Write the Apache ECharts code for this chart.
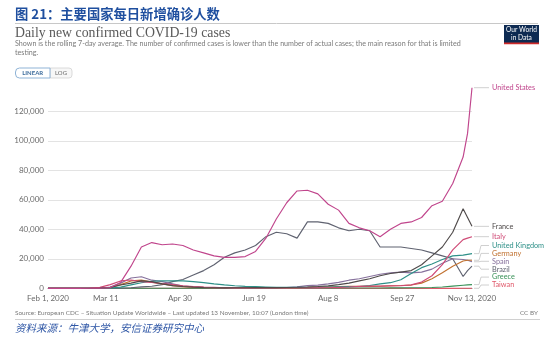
<!DOCTYPE html>
<html>
<head>
<meta charset="utf-8">
<script src="https://cdn.jsdelivr.net/npm/echarts@6/dist/echarts.min.js"></script>
<style>
  html, body { margin: 0; padding: 0; background: #fff; }
  #chart { width: 550px; height: 343px; }
</style>
</head>
<body>
<div id="chart"></div>
<script>
// Weekly samples of the rolling 7-day average of new confirmed cases
const dates = [
  '2020-02-01','2020-02-08','2020-02-15','2020-02-22','2020-02-29',
  '2020-03-07','2020-03-14','2020-03-21','2020-03-28',
  '2020-04-04','2020-04-11','2020-04-18','2020-04-25',
  '2020-05-02','2020-05-09','2020-05-16','2020-05-23','2020-05-30',
  '2020-06-06','2020-06-13','2020-06-20','2020-06-27',
  '2020-07-04','2020-07-11','2020-07-18','2020-07-25',
  '2020-08-01','2020-08-08','2020-08-15','2020-08-22','2020-08-29',
  '2020-09-05','2020-09-12','2020-09-19','2020-09-26',
  '2020-10-03','2020-10-10','2020-10-17','2020-10-24','2020-10-31',
  '2020-11-07','2020-11-10','2020-11-13'
];

const unitedStates = [0,0,0,0,10, 60,500,4000,15000, 28000,31000,29500,30000,
  29000,26000,24000,22000,21000, 21000,21500,25000,34000, 47000,58000,66000,66500,
  64000,57000,53000,44000,41000, 39000,35000,40000,44000, 45000,48000,56000,59000,71000,
  89000,105000,136000];
const france = [0,0,0,0,10, 100,600,2200,3500, 5000,4500,3000,1800,
  1200,800,500,400,300, 400,400,450,500, 500,550,700,900,
  1200,1600,2500,3500,5000, 6500,8500,10000,11000, 12000,16000,22000,28000,38000,
  54000,48000,42000];
const italy = [0,0,0,0,150, 600,2500,5000,5600, 4500,3900,3200,2600,
  1700,1200,800,600,400, 300,300,250,200, 200,200,200,250,
  300,400,600,900,1300, 1500,1500,1600,1700, 2300,4200,8500,16000,26000,
  33000,34000,35000];
const unitedKingdom = [0,0,0,0,5, 30,200,800,2300, 3800,4800,5000,5000,
  5000,4500,3800,3000,2300, 1700,1300,1100,900, 700,600,650,700,
  750,850,1000,1100,1200, 1900,3000,3800,5800, 10000,14000,16500,19500,22000,
  22500,23000,23500];
const germany = [0,0,0,0,10, 100,500,2500,5000, 5500,4200,3000,1800,
  1100,800,600,500,400, 350,350,600,500, 400,400,450,600,
  800,900,1200,1400,1300, 1300,1400,1700,1900, 2200,3500,6500,10500,15000,
  18500,19000,19000];
const spain = [0,0,0,0,10, 50,800,3500,7000, 7800,5500,4500,3000,
  1500,1000,600,400,300, 300,350,300,300, 350,500,1000,1800,
  2200,3000,4000,5500,6500, 8000,9500,10500,11000, 10500,11000,13000,17000,20000,
  19500,19000,18000];
const brazil = [0,0,0,0,0, 5,30,150,350, 1000,1400,2500,4500,
  6000,9000,12000,16000,21000, 24000,26000,29000,35000, 38000,37000,34000,45000,
  45000,44000,41000,39000,40000, 39000,28000,28000,28000, 27000,26000,24000,22000,20000,
  8000,12000,15000];
const greece = [0,0,0,0,0, 5,20,40,60, 50,40,30,20,
  15,10,10,10,10, 10,10,20,20, 20,25,30,40,
  60,130,200,200,200, 200,220,300,300, 350,400,550,900,1500,
  2100,2300,2500];
const taiwan = [0,0,0,0,2, 2,5,15,20, 15,8,3,1,
  0,0,0,0,0, 0,0,0,0, 0,0,0,0,
  0,0,0,0,0, 0,0,0,0, 0,0,0,0,0,
  1,1,1];

const countryNames = ['United States','France','Italy','United Kingdom','Germany','Spain','Brazil','Greece','Taiwan'];
const countryValues = [unitedStates, france, italy, unitedKingdom, germany, spain, brazil, greece, taiwan];
const countryColors = ['#c0458c','#4f4a4a','#cf4a76','#2e9088','#c0702f','#86719c','#5f6270','#3a9259','#e0586a'];

// Dates shown on the horizontal axis and their captions
const tickDates = ['2020-02-01','2020-03-11','2020-04-30','2020-06-19','2020-08-08','2020-09-27','2020-11-13'];
const tickCaptions = ['Feb 1, 2020','Mar 11','Apr 30','Jun 19','Aug 8','Sep 27','Nov 13, 2020'];

const yTicks = { min: 0, max: 120000, step: 20000 };

const chart = echarts.init(document.getElementById('chart'), null, { renderer: 'canvas' });
const sans = 'Lato, "Noto Sans", sans-serif';
const cjk = '"Noto Sans CJK SC", sans-serif';

const toTime = d => Date.parse(d + 'T00:00:00Z');
const tickTimes = tickDates.map(toTime);
const sampleTimes = dates.map(toTime);

const series = countryNames.map((name, i) => ({
  name: name,
  type: 'line',
  showSymbol: false,
  clip: false,
  animation: false,
  color: countryColors[i],
  lineStyle: { width: 1.15, color: countryColors[i] },
  z: 10 - i,
  data: sampleTimes.map((t, j) => [t, countryValues[i][j]])
}));

const option = {
  animation: false,
  grid: { left: 48, right: 78, top: 111.3, bottom: 54.7, containLabel: false },
  xAxis: {
    type: 'value',
    min: tickTimes[0],
    max: tickTimes[tickTimes.length - 1],
    axisLine: { show: true, onZero: false, lineStyle: { color: '#8a8a8a', width: 1 } },
    axisTick: { show: false },
    splitLine: { show: false },
    axisLabel: {
      customValues: tickTimes,
      color: '#6a6a6a',
      fontFamily: sans,
      fontSize: 8,
      margin: 6,
      hideOverlap: false,
      formatter: function (v) {
        const k = tickTimes.indexOf(+v);
        return k >= 0 ? tickCaptions[k] : '';
      }
    }
  },
  yAxis: {
    type: 'value',
    min: yTicks.min,
    max: yTicks.max,
    interval: yTicks.step,
    axisLine: { show: false },
    axisTick: { show: false },
    splitLine: { show: true, lineStyle: { color: '#e3e3e3', width: 1 } },
    axisLabel: {
      color: '#6a6a6a',
      fontFamily: sans,
      fontSize: 8,
      margin: 4,
      formatter: v => v.toLocaleString('en-US')
    }
  },
  series: series
};
chart.setOption(option);

// Header, footer and logo
const header = [
  { type: 'text', left: 15, top: 7, style: { text: '图 21：主要国家每日新增确诊人数', font: 'bold 13.3px ' + cjk, fill: '#1f4f9f' } },
  { type: 'line', shape: { x1: 15, y1: 23.5, x2: 538, y2: 23.5 }, style: { stroke: '#c8c8c8', lineWidth: 1 } },
  { type: 'text', left: 15, top: 26, style: { text: 'Daily new confirmed COVID-19 cases', font: '13.8px "Liberation Serif", serif', fill: '#5a5a5a' } },
  { type: 'text', left: 15, top: 40.5, style: { text: 'Shown is the rolling 7-day average. The number of confirmed cases is lower than the number of actual cases; the main reason for that is limited', font: '7.15px ' + sans, fill: '#7a7a7a' } },
  { type: 'text', left: 15, top: 49, style: { text: 'testing.', font: '7.15px ' + sans, fill: '#7a7a7a' } },
  // LINEAR / LOG toggle
  { type: 'rect', shape: { x: 50, y: 68, width: 22, height: 10, r: [0, 3, 3, 0] }, style: { fill: '#f7f7f7', stroke: '#d2d2d2', lineWidth: 0.8 } },
  { type: 'rect', shape: { x: 15.5, y: 68, width: 34.5, height: 10, r: [4, 0, 0, 4] }, style: { fill: '#fff', stroke: '#8fb3d6', lineWidth: 1 } },
  { type: 'text', x: 32.7, y: 73.2, style: { text: 'LINEAR', font: 'bold 6px ' + sans, fill: '#3b6b9c', align: 'center', verticalAlign: 'middle' } },
  { type: 'text', x: 61, y: 73.2, style: { text: 'LOG', font: '6px ' + sans, fill: '#6a6a6a', align: 'center', verticalAlign: 'middle' } },
  // Our World in Data logo
  { type: 'rect', shape: { x: 504, y: 25, width: 35, height: 19 }, style: { fill: '#0d2a52' } },
  { type: 'rect', shape: { x: 504, y: 42.5, width: 35, height: 1.7 }, style: { fill: '#ce2a2a' } },
  { type: 'text', x: 521.5, y: 30, style: { text: 'Our World', font: '6.6px ' + sans, fill: '#fff', align: 'center', verticalAlign: 'middle' } },
  { type: 'text', x: 521.5, y: 37.5, style: { text: 'in Data', font: '6.6px ' + sans, fill: '#fff', align: 'center', verticalAlign: 'middle' } },
  // Footer
  { type: 'text', left: 15, top: 310, style: { text: 'Source: European CDC – Situation Update Worldwide – Last updated 13 November, 10:07 (London time)', font: '6.4px ' + sans, fill: '#7a7a7a' } },
  { type: 'text', right: 12, top: 310, style: { text: 'CC BY', font: '6.4px ' + sans, fill: '#7a7a7a' } },
  { type: 'line', shape: { x1: 15, y1: 319.5, x2: 540, y2: 319.5 }, style: { stroke: '#d0d0d0', lineWidth: 1 } },
  { type: 'text', left: 15, top: 322.5, style: { text: '资料来源：牛津大学，安信证券研究中心', font: 'italic 10.5px ' + cjk, fill: '#2f57a6' } }
];

// Country name labels at the right end of each line, spread apart so they do not overlap
function endLabels() {
  const gap = 7.9;
  const zeroY = chart.convertToPixel({ gridIndex: 0 }, [tickTimes[0], 0])[1];
  const floor = zeroY - 3.3;
  const last = dates.length - 1;
  const items = countryNames.map((name, i) => {
    const p = chart.convertToPixel({ gridIndex: 0 }, [sampleTimes[last], countryValues[i][last]]);
    return { name: name, color: countryColors[i], x: p[0], y: p[1] };
  }).sort((a, b) => a.y - b.y);

  const groups = items.map(it => ({ items: [it] }));
  const layout = g => {
    const n = g.items.length;
    const mean = g.items.reduce((s, it) => s + it.y, 0) / n;
    let top = mean - (n - 1) * gap / 2;
    if (top + (n - 1) * gap > floor) top = floor - (n - 1) * gap;
    g.top = top;
    g.bottom = top + (n - 1) * gap;
  };
  groups.forEach(layout);
  let merged = true;
  while (merged) {
    merged = false;
    for (let k = 0; k < groups.length - 1; k++) {
      if (groups[k].bottom + gap > groups[k + 1].top + 0.01) {
        groups[k].items = groups[k].items.concat(groups[k + 1].items);
        groups.splice(k + 1, 1);
        layout(groups[k]);
        merged = true;
        break;
      }
    }
  }
  const out = [];
  groups.forEach(g => {
    g.items.forEach((it, j) => {
      const ly = g.top + j * gap;
      out.push({
        type: 'polyline',
        shape: { points: [[it.x + 2, it.y], [it.x + 7, it.y], [it.x + 9, ly], [it.x + 17, ly]] },
        style: { stroke: '#c4c4c4', lineWidth: 0.8, fill: null }
      });
      out.push({
        type: 'text', x: it.x + 20, y: ly,
        style: { text: it.name, font: '7.3px ' + sans, fill: it.color, verticalAlign: 'middle' }
      });
    });
  });
  return out;
}

chart.setOption({ graphic: header.concat(endLabels()) });
</script>
</body>
</html>
